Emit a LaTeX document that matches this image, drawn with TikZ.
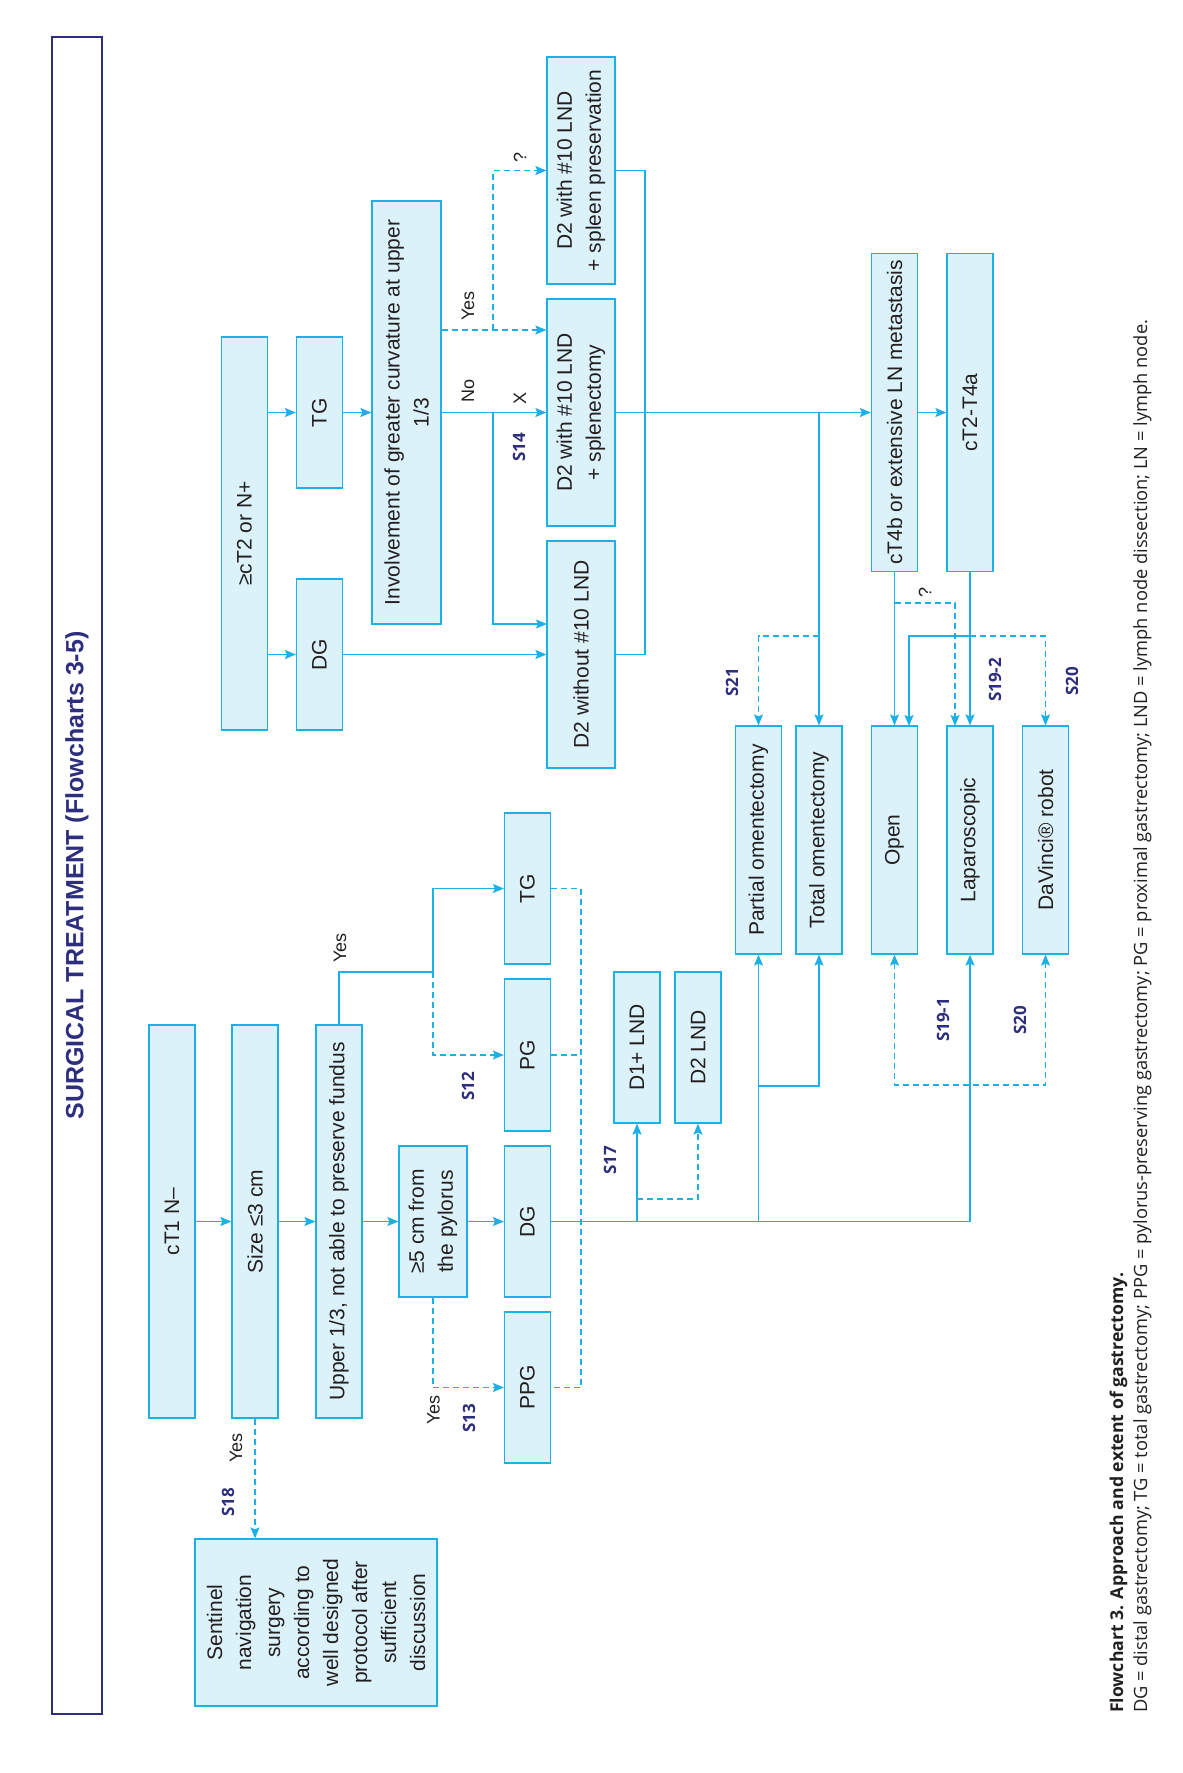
\documentclass[tikz,border=0pt]{standalone}
\usepackage{fontspec}
\setmainfont{Liberation Sans}
\newfontfamily\capfont{Open Sans}
\usepackage{graphicx}
\usetikzlibrary{arrows.meta}
\definecolor{cy}{HTML}{1DB0E6}
\definecolor{bf}{HTML}{DCF2FB}
\definecolor{navy}{HTML}{2E2E7E}
\definecolor{tx}{HTML}{231F20}
\tikzset{
 box/.style={draw=cy, fill=bf, line width=1.2pt, rotate=90, inner sep=0pt, align=center, text=tx, font=\fontsize{21}{29}\selectfont},
 arr/.style={draw=cy, line width=1.3pt, ->},
 ln/.style={draw=cy, line width=1.3pt},
 dsh/.style={dash pattern=on 6pt off 4pt},
 lbl/.style={rotate=90, text=tx, font=\fontsize{18}{20}\selectfont, inner sep=0pt},
 sref/.style={rotate=90, text=navy, font={\capfont\bfseries\fontsize{17}{20}\selectfont}, inner sep=0pt},
 >={Stealth[length=11pt,width=9pt,inset=2pt]}
}
\begin{document}
\begin{tikzpicture}[x=1pt,y=-1pt]
\useasboundingbox[fill=white] (0,0) rectangle (1183,1773);
% title
\node[rotate=90, draw=navy, line width=1.5pt, minimum width=1677pt, minimum height=50pt, inner sep=0pt, text=navy] (title) at (77,875.5)
 {\resizebox{488pt}{!}{\bfseries\fontsize{28}{30}\selectfont SURGICAL TREATMENT (Flowcharts 3-5)}};
% lower flow
\node[box, minimum width=393pt, minimum height=46pt] (ct1) at (172,1221.5) {cT1 N–};
\node[box, minimum width=393pt, minimum height=46pt] (size) at (255,1221.5) {Size ≤3 cm};
\node[box, minimum width=393pt, minimum height=46pt] (upper) at (339,1221.5) {Upper 1/3, not able to preserve fundus};
\node[box, minimum width=151pt, minimum height=68pt] (five) at (433,1221.5) {≥5 cm from\\the pylorus};
\node[box, minimum width=151pt, minimum height=46pt] (dgL) at (527.5,1221.5) {DG};
\node[box, minimum width=152pt, minimum height=46pt] (pg) at (527.5,1055) {PG};
\node[box, minimum width=151pt, minimum height=46pt] (tgL) at (527.5,888.5) {TG};
\node[box, minimum width=151pt, minimum height=46pt] (ppg) at (527.5,1387.5) {PPG};
\node[box, minimum width=151pt, minimum height=46pt] (d1) at (637,1047.5) {D1+ LND};
\node[box, minimum width=151pt, minimum height=46pt] (d2) at (698,1047.5) {D2 LND};
\node[box, minimum width=228pt, minimum height=46pt] (partial) at (758.5,840) {Partial omentectomy};
\node[box, minimum width=228pt, minimum height=46pt] (total) at (819,840) {Total omentectomy};
\node[box, minimum width=228pt, minimum height=46pt] (open) at (894.5,840) {Open};
\node[box, minimum width=228pt, minimum height=46pt] (lap) at (970,840) {Laparoscopic};
\node[box, minimum width=228pt, minimum height=46pt] (robot) at (1045.5,840) {DaVinci® robot};
\node[box, minimum width=167pt, minimum height=242pt] (sentinel) at (316,1622.5) {Sentinel\\navigation\\surgery\\according to\\well designed\\protocol after\\sufficient\\discussion};
% upper flow
\node[box, minimum width=393pt, minimum height=46pt] (ct2) at (244.5,533.5) {≥cT2 or N+};
\node[box, minimum width=151pt, minimum height=46pt] (tgU) at (319.5,412.5) {TG};
\node[box, minimum width=151pt, minimum height=46pt] (dgU) at (319.5,654.5) {DG};
\node[box, minimum width=423pt, minimum height=69pt] (inv) at (406.5,412.5) {Involvement of greater curvature at upper\\1/3};
\node[box, minimum width=227pt, minimum height=68pt] (spl) at (581,412.5) {D2 with \#10 LND\\+ splenectomy};
\node[box, minimum width=227pt, minimum height=68pt] (pres) at (581,170.5) {D2 with \#10 LND\\+ spleen preservation};
\node[box, minimum width=227pt, minimum height=68pt] (wo) at (581,654.5) {D2 without \#10 LND};
\node[box, minimum width=318pt, minimum height=46pt] (ct4b) at (894.5,412.5) {cT4b or extensive LN metastasis};
\node[box, minimum width=318pt, minimum height=46pt] (ct2t4a) at (970,412.5) {cT2-T4a};
% junction coordinates
\coordinate (yj) at (433,972);
\coordinate (db) at (581,1387.5);
\coordinate (d2j) at (637,1199);
\coordinate (omj) at (758.5,1086);
\coordinate (ob) at (894.5,1085);
\coordinate (nb) at (493,412.5);
\coordinate (yb) at (493,330);
\coordinate (cr) at (645,654.5);
\coordinate (tj) at (819,636);
\coordinate (qj) at (894.5,603);
\coordinate (lj) at (970,636);
\coordinate (lapq) at (955,726);
\coordinate (openq) at (909,726);
\coordinate (wop) at (547,624);
% connectors lower
\draw[arr] (ct1) -- (size);
\draw[arr] (size) -- (upper);
\draw[arr] (upper) -- (five);
\draw[arr] (five) -- (dgL);
\draw[ln] (upper.east) |- (yj);
\draw[arr] (yj) |- (tgL);
\draw[arr,dsh] (yj) |- (pg);
\draw[arr,dsh] (five.west) |- (ppg);
\draw[ln,dsh] (tgL.south) -| (db) -- (ppg.south);
\draw[ln,dsh] (pg.south) -- (pg.south -| db);
\draw[arr,dsh] (size.west) -- (size.west |- sentinel.east);
\draw[arr] (dgL.south) -| (lap);
\draw[arr] (dgL.south -| d1) -- (d1);
\draw[arr,dsh] (d2j) -| (d2);
\draw[arr] (dgL.south -| partial) -- (partial);
\draw[arr] (omj) -| (total);
\draw[ln,dsh,<->] (open) |- (robot |- ob) -- (robot);
% connectors upper
\draw[arr] (ct2.south |- tgU) -- (tgU);
\draw[arr] (ct2.south |- dgU) -- (dgU);
\draw[arr] (tgU) -- (inv);
\draw[arr] (inv) -- (spl);
\draw[arr] (nb) |- (wop);
\draw[arr] (dgU) -- (wo);
\draw[arr,dsh] (inv.south |- yb) -- (spl.north |- yb);
\draw[arr,dsh] (yb) |- (pres);
\draw[ln] (pres.south) -| (cr) -- (wo.south);
\draw[arr] (spl) -- (ct4b);
\draw[arr] (spl -| total) -- (total);
\draw[arr,dsh] (tj) -| (partial);
\draw[arr] (ct4b) -- (ct2t4a);
\draw[arr] (ct4b) -- (open);
\draw[arr,dsh] (qj) -| (lapq);
\draw[arr] (ct2t4a) -- (lap);
\draw[arr] (lj) -| (openq);
\draw[arr,dsh] (lj) -| (robot);
% labels
\node[lbl] (y1) at (340,948) {Yes};
\node[lbl] (y2) at (433.5,1410) {Yes};
\node[lbl] (y3) at (236,1448) {Yes};
\node[lbl] (y4) at (468,306) {Yes};
\node[lbl] (no) at (468,391) {No};
\node[lbl] (xx) at (520,398) {X};
\node[lbl] (q1) at (520,157) {?};
\node[lbl] (q2) at (925,592) {?};
\node[sref] (s18) at (228,1502) {S18};
\node[sref] (s13) at (469,1418) {S13};
\node[sref] (s12) at (468,1086) {S12};
\node[sref] (s17) at (610,1160) {S17};
\node[sref] (s191) at (943,1020) {S19-1};
\node[sref] (s20a) at (1020,1020) {S20};
\node[sref] (s14) at (519,447) {S14};
\node[sref] (s21) at (732,682) {S21};
\node[sref] (s192) at (995,680) {S19-2};
\node[sref] (s20b) at (1072,681) {S20};
% caption
\node[rotate=90, anchor=base west, inner sep=0pt, text=tx] (cap1) at (1123,1713)
 {\resizebox{440pt}{!}{\capfont\bfseries\fontsize{17}{20}\selectfont Flowchart 3. Approach and extent of gastrectomy.}};
\node[rotate=90, anchor=base west, inner sep=0pt, text=tx] (cap2) at (1147,1713)
 {\resizebox{1393pt}{!}{\capfont\fontsize{17}{20}\selectfont DG = distal gastrectomy; TG = total gastrectomy; PPG = pylorus-preserving gastrectomy; PG = proximal gastrectomy; LND = lymph node dissection; LN = lymph node.}};
\end{tikzpicture}
\end{document}
